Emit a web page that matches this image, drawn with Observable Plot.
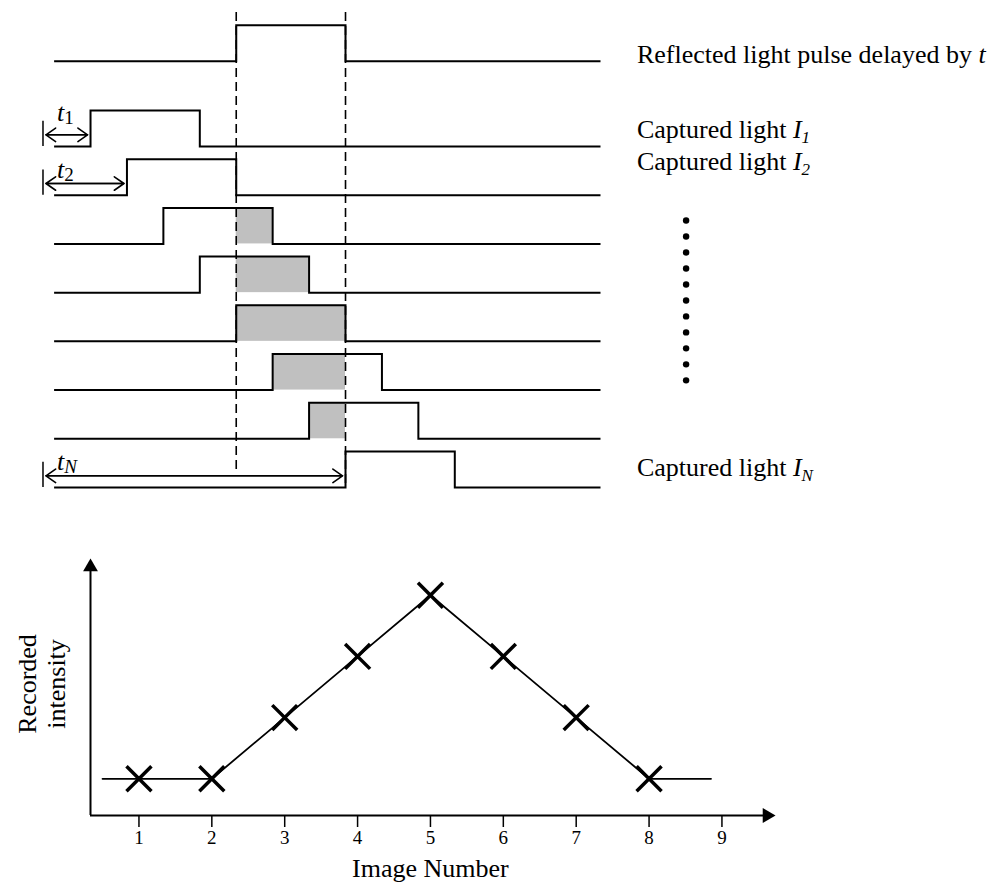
<!DOCTYPE html>
<html><head><meta charset="utf-8">
<script src="https://cdn.jsdelivr.net/npm/d3@7"></script>
<script src="https://cdn.jsdelivr.net/npm/@observablehq/plot@0.6"></script>
<style>
html,body{margin:0;padding:0;background:#fff;}
#chart{position:relative;width:1002px;height:885px;overflow:hidden;background:#fff;}
#chart svg{display:block;overflow:visible;}
</style></head><body><div id="chart"></div>
<script>
// ---------------- data ----------------
// timing diagram (time in units of one gate step)
const rowNames   = ["Reflected", "I1", "I2", "I3", "I4", "I5", "I6", "I7", "IN"];
const pulseStart = [5, 1, 2, 3, 4, 5, 6, 7, 8];
const pulseWidth = 3;
const timeEnd = 15;
const windowStart = 5, windowEnd = 8;           // reflected pulse (dashed lines)

const labelRows   = ["Reflected", "I1", "I2", "IN"];
const labelText   = ["Reflected light pulse delayed by ", "Captured light ", "Captured light ", "Captured light "];
const labelSymbol = ["t", "I", "I", "I"];
const labelSub    = ["", "1", "2", "N"];

const delayRows = ["I1", "I2", "IN"];
const delaySub  = ["1", "2", "N"];
const ellipsisDots = 11;

// recorded intensity chart
const imageNumber = [1, 2, 3, 4, 5, 6, 7, 8];
const intensity   = [0, 0, 1, 2, 3, 2, 1, 0];
const lineLead = 0.5, lineTail = 8.85;
const xTicks = [1, 2, 3, 4, 5, 6, 7, 8, 9];
const xLabel = "Image Number";
const yLabel = ["Recorded", "intensity"];

// ---------------- layout ----------------
const FONT = "'Liberation Serif','Times New Roman',serif";
const H = 0.74;                       // pulse height (row units)
const rowPos = name => { const i = rowNames.indexOf(name); return i === 0 ? -0.75 : i; };
const barT = -0.305;

const waves = rowNames.flatMap((name, i) => {
  const r = rowPos(name), s = pulseStart[i], e = s + pulseWidth;
  return [[0, r], [s, r], [s, r - H], [e, r - H], [e, r], [timeEnd, r]].map(([t, y]) => ({name, t, y}));
});
const shade = rowNames.map((name, i) => ({
  name, r: rowPos(name),
  x1: Math.max(pulseStart[i], windowStart),
  x2: Math.min(pulseStart[i] + pulseWidth, windowEnd)
})).filter(d => d.name !== "Reflected" && d.x2 > d.x1);

const delays = delayRows.map((name, i) => ({name, r: rowPos(name), start: pulseStart[rowNames.indexOf(name)], sub: delaySub[i]}));
const delayDy = [-14, -6, -6];
const labels = labelRows.map((name, i) => ({name, r: rowPos(name), text: labelText[i], sym: labelSymbol[i], sub: labelSub[i]}));
const labelDy = [2, -9, -25, -12];
const dots = d3.range(ellipsisDots).map(i => ({i, y: 2.52 + i * 0.328}));

const topSvg = Plot.plot({
  width: 1002, height: 520,
  marginTop: 0, marginBottom: 0, marginLeft: 0, marginRight: 0,
  style: {fontFamily: FONT, fontSize: "26px", color: "#000", background: "#fff"},
  x: {domain: [0, timeEnd], range: [53.6, 600], axis: null},
  y: {domain: [1, 8], range: [146, 487], axis: null},
  marks: [
    Plot.rect(shade, {x1: "x1", x2: "x2", y1: d => d.r - H, y2: "r", fill: "#c0c0c0"}),
    Plot.ruleX([windowStart], {y1: -1.75, y2: 7.7, stroke: "#000", strokeWidth: 1.6, strokeDasharray: "9,5"}),
    Plot.ruleX([windowEnd], {y1: -1.75, y2: 8, stroke: "#000", strokeWidth: 1.6, strokeDasharray: "9,5"}),
    Plot.line(waves, {x: "t", y: "y", z: "name", stroke: "#000", strokeWidth: 2, strokeLinejoin: "miter", strokeLinecap: "butt", strokeMiterlimit: 4}),
    Plot.ruleX(delays, {x: barT, y1: d => d.r - 0.52, y2: "r", stroke: "#000", strokeWidth: 1.5}),
    Plot.arrow(delays, {x1: barT, x2: "start", y1: d => d.r - 0.24, y2: d => d.r - 0.24, insetStart: 3, insetEnd: 3, headLength: 11, headAngle: 70, strokeWidth: 1.6, stroke: "#000"}),
    Plot.arrow(delays, {x1: "start", x2: barT, y1: d => d.r - 0.24, y2: d => d.r - 0.24, insetStart: 3, insetEnd: 3, headLength: 11, headAngle: 70, strokeWidth: 1.6, stroke: "#000"}),
    Plot.text(delays, {x: 0, y: d => d.r - 0.24, dx: 3, text: d => `|t|${d.sub}`, textAnchor: "start", lineAnchor: "bottom", fontSize: 26}),
    Plot.text(labels, {x: timeEnd + 1, y: "r", text: d => `${d.text}|${d.sym}|${d.sub}`, textAnchor: "start", lineAnchor: "bottom", fontSize: 26}),
    Plot.dot(dots, {x: 17.35, y: "y", r: 3.2, fill: "#000", stroke: null})
  ]
});

// turn "prefix|symbol|sub" strings into italic symbol + subscript, and apply per-label offsets
function richify(svg) {
  const ns = "http://www.w3.org/2000/svg";
  let ti = 0, li = 0;
  Array.from(svg.querySelectorAll("text")).filter(t => t.textContent.includes("|")).forEach(t => {
    const [pre, sym, sub] = t.textContent.split("|");
    const isDelay = pre === "";
    const off = isDelay ? delayDy[ti++] : labelDy[li++];
    const tr = t.getAttribute("transform") || "";
    t.setAttribute("transform", tr + ` translate(0,${off})`);
    t.textContent = "";
    t.style.whiteSpace = "pre";
    if (pre) { const a = document.createElementNS(ns, "tspan"); a.textContent = pre; t.appendChild(a); }
    const b = document.createElementNS(ns, "tspan");
    b.setAttribute("font-style", "italic"); b.textContent = sym; t.appendChild(b);
    if (sub) {
      const c = document.createElementNS(ns, "tspan");
      c.setAttribute("font-size", isDelay ? 19 : 17);
      c.setAttribute("dy", isDelay ? 3 : 5);
      if (!isDelay || !/^\d$/.test(sub)) c.setAttribute("font-style", "italic");
      c.textContent = sub; t.appendChild(c);
    }
  });
}
richify(topSvg);

const pts = imageNumber.map((x, i) => ({x, y: intensity[i]}));
const linePts = [{x: lineLead, y: intensity[0]}, ...pts, {x: lineTail, y: intensity[intensity.length - 1]}];
const X0 = 0.335, X1 = 9.735, Y0 = -0.6, Y1 = 3.6;

const bottomSvg = Plot.plot({
  width: 1002, height: 365,
  marginTop: 38, marginBottom: 70, marginLeft: 90, marginRight: 227,
  style: {fontFamily: FONT, fontSize: "19px", color: "#000", background: "#fff", overflow: "visible"},
  x: {domain: [X0, X1]},
  y: {domain: [Y0, Y1], axis: null},
  marks: [
    Plot.ruleY([Y0], {x1: X0, x2: X1 - 0.15, stroke: "#000", strokeWidth: 2}),
    Plot.ruleX([X0], {y1: Y0, y2: Y1 - 0.15, stroke: "#000", strokeWidth: 2}),
    Plot.dot([0], {x: X1, y: Y0, symbol: "triangle", r: 5.5, rotate: 90, dx: -8.5, fill: "#000", stroke: null}),
    Plot.dot([0], {x: X0, y: Y1, symbol: "triangle", r: 5.5, dy: 8.5, fill: "#000", stroke: null}),
    Plot.axisX({ticks: xTicks, tickSize: 12, tickPadding: 3, tickFormat: d => String(d), label: null, strokeWidth: 1.5}),
    Plot.line(linePts, {x: "x", y: "y", stroke: "#000", strokeWidth: 1.8}),
    Plot.dot(pts, {x: "x", y: "y", symbol: "times", r: 11.4, stroke: "#000", strokeWidth: 3.5}),
    Plot.text([xLabel], {x: 5, y: Y0, dy: 61, text: d => d, lineAnchor: "bottom", textAnchor: "middle", fontSize: 26}),
    Plot.text([yLabel.join("\n")], {x: X0, y: 1.55, dx: -49, text: d => d, rotate: -90, lineHeight: 1.08, textAnchor: "middle", fontSize: 26})
  ]
});

const chart = document.getElementById("chart");
chart.appendChild(topSvg);
chart.appendChild(bottomSvg);
</script>
</body></html>
